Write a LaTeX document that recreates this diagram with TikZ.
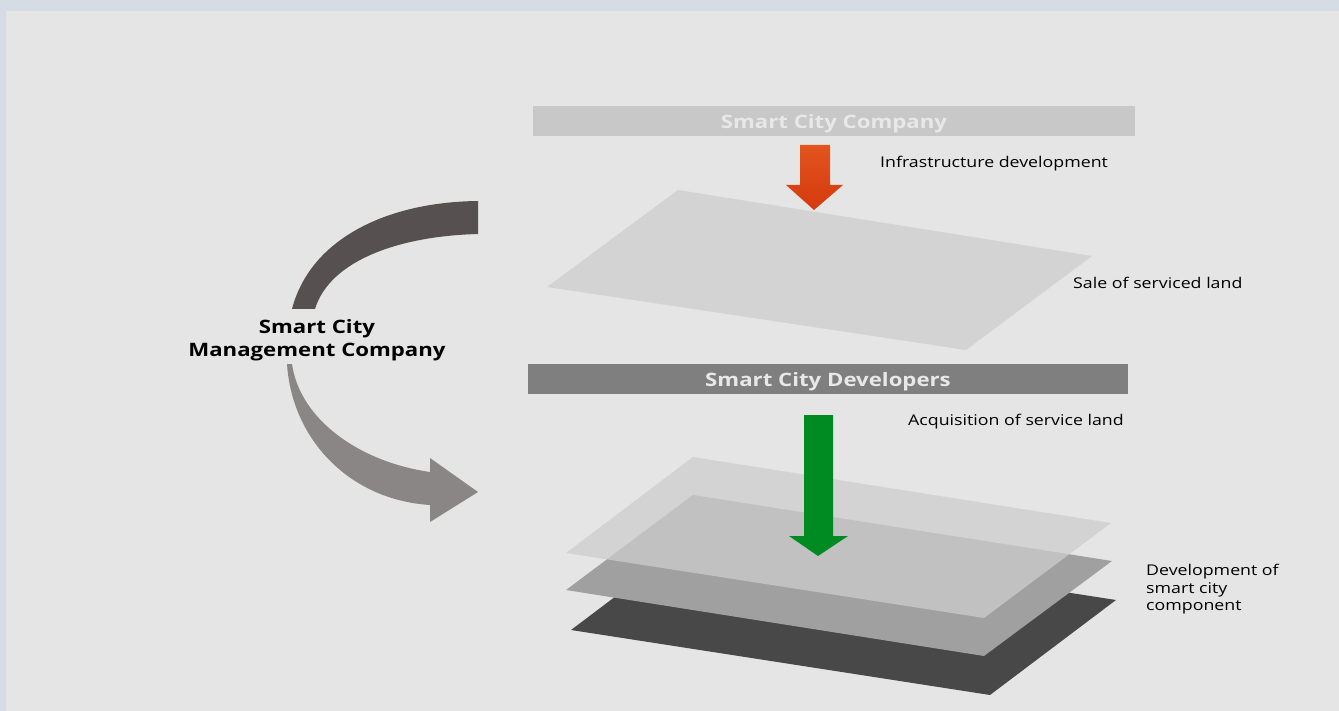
\documentclass[tikz,border=0pt]{standalone}
\usepackage{fontspec}
\setmainfont{Open Sans}[FakeStretch=1.2]
\definecolor{edge}{HTML}{D5DCE4}
\definecolor{paper}{HTML}{E5E5E5}
\definecolor{barlight}{HTML}{C8C8C8}
\definecolor{bardark}{HTML}{7F7F7F}
\definecolor{bartext}{HTML}{E8E8E8}
\definecolor{land}{HTML}{D3D3D3}
\definecolor{toplayer}{HTML}{CDCDCD}
\definecolor{midland}{HTML}{A0A0A0}
\definecolor{base}{HTML}{484848}
\definecolor{arcdark}{HTML}{565150}
\definecolor{arclight}{HTML}{8A8685}
\definecolor{infra}{HTML}{E2541E}
\definecolor{infralow}{HTML}{D43A0E}
\definecolor{acq}{HTML}{008A22}

\begin{document}
\begin{tikzpicture}[x=1pt,y=-1pt,
    bar/.style={fill=#1,minimum width=602,minimum height=30,inner sep=0,text depth=0,
      font=\fontsize{18.5}{20}\selectfont\bfseries,text=bartext},
    lbl/.style={inner sep=0,font=\fontsize{14.8}{17.5}\selectfont,text=black}
  ]
  \useasboundingbox (0,0) rectangle (1339,711);
  \fill[edge] (0,0) rectangle (1339,711);
  \fill[paper] (6,11) rectangle (1339,711);

  \fill[land] (678,190) -- (1092,256) -- (966,350) -- (547,287) -- cycle;
  \fill[base] (697,535) -- (1116,600) -- (990,695) -- (571,630) -- cycle;
  \fill[midland] (693,495) -- (1112,561) -- (984,656) -- (566,590) -- cycle;
  \fill[toplayer,fill opacity=.75] (693,457) -- (1111,523) -- (984,618) -- (566,553) -- cycle;

  \node[bar=barlight] (scc) at (834,121) {Smart City Company};
  \node[bar=bardark,minimum width=600] (scd) at (828,379) {Smart City Developers};

  \shade[top color=infra,bottom color=infralow] (800,145) -- (830,145) -- (830,185)
    -- (843,185) -- (814,210) -- (786,185) -- (800,185) -- cycle;
  \fill[acq] (804,415) -- (833,415) -- (833,536) -- (848,536) -- (818,556)
    -- (789,536) -- (804,536) -- cycle;

  \fill[arcdark] (478,201) .. controls (385,202) and (310,240) .. (292,309)
    -- (315,309) .. controls (330,260) and (400,236) .. (478,234) -- cycle;
  \fill[arclight] (287,364) .. controls (292,440) and (350,500) .. (430,505)
    -- (430,522) -- (478,492) -- (430,458) -- (430,472)
    .. controls (360,462) and (300,420) .. (292,364) -- cycle;

  \node[inner sep=0,align=center,font=\fontsize{18.5}{23}\selectfont\bfseries] (mgmt)
    at (317,340) {Smart City\\Management Company};
  \node[lbl,anchor=base west] (infdev) at (880,168) {Infrastructure development};
  \node[lbl,anchor=base west] (sale) at (1073,289) {Sale of serviced land};
  \node[lbl,anchor=base west] (acqland) at (908,425) {Acquisition of service land};
  \node[lbl,anchor=north west,align=left] (devcomp) at (1146,564)
    {Development of\\smart city\\component};
\end{tikzpicture}
\end{document}
